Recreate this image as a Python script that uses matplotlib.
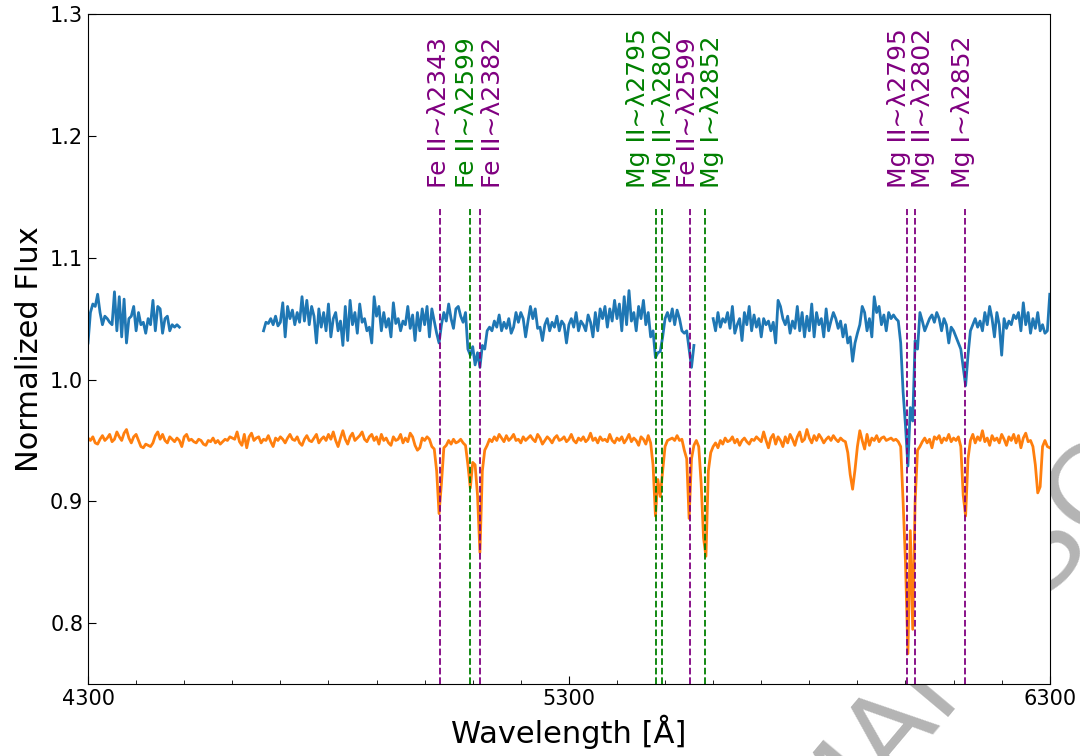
import matplotlib
matplotlib.use('Agg')
import matplotlib.pyplot as plt
import numpy as np
from matplotlib.ticker import MultipleLocator

# DATOS
# -----
# rejilla de longitud de onda (paso de 5 A)
lam_ini = 4300
lam_fin = 6300
paso = 5

nan = np.nan

# espectro azul (cortes = nan)
flujo_azul = [
    1.030, 1.055, 1.062, 1.060, 1.070, 1.055, 1.045, 1.052, 1.050, 1.047, 1.045, 1.072, 1.040, 1.068, 1.035, 1.066, 1.030, 1.050, 1.052, 1.060,
    1.040, 1.055, 1.045, 1.047, 1.038, 1.050, 1.045, 1.065, 1.040, 1.060, 1.058, 1.038, 1.050, 1.052, 1.040, 1.045, 1.043, 1.045, 1.043, nan,
    nan, nan, nan, nan, nan, nan, nan, nan, nan, nan, nan, nan, nan, nan, nan, nan, nan, nan, nan, nan,
    nan, nan, nan, nan, nan, nan, nan, nan, nan, nan, nan, nan, nan, 1.040, 1.047, 1.046, 1.050, 1.045, 1.052, 1.044,
    1.047, 1.063, 1.035, 1.060, 1.050, 1.057, 1.045, 1.055, 1.047, 1.068, 1.048, 1.065, 1.045, 1.060, 1.052, 1.030, 1.058, 1.043, 1.055, 1.040,
    1.062, 1.035, 1.050, 1.055, 1.040, 1.048, 1.028, 1.060, 1.032, 1.065, 1.045, 1.055, 1.038, 1.062, 1.047, 1.050, 1.040, 1.043, 1.030, 1.068,
    1.052, 1.060, 1.040, 1.055, 1.043, 1.050, 1.035, 1.063, 1.046, 1.050, 1.040, 1.048, 1.045, 1.060, 1.042, 1.053, 1.032, 1.055, 1.040, 1.058,
    1.045, 1.060, 1.035, 1.058, 1.048, 1.038, 1.030, 1.045, 1.055, 1.048, 1.062, 1.050, 1.042, 1.058, 1.060, 1.052, 1.047, 1.055, 1.025, 1.020,
    1.027, 1.012, 1.022, 1.010, 1.028, 1.025, 1.040, 1.043, 1.040, 1.048, 1.043, 1.053, 1.040, 1.047, 1.042, 1.050, 1.038, 1.043, 1.055, 1.047,
    1.055, 1.050, 1.035, 1.048, 1.060, 1.050, 1.058, 1.042, 1.043, 1.032, 1.045, 1.050, 1.040, 1.047, 1.043, 1.052, 1.040, 1.048, 1.045, 1.030,
    1.045, 1.050, 1.043, 1.055, 1.040, 1.048, 1.045, 1.040, 1.053, 1.047, 1.035, 1.055, 1.040, 1.058, 1.050, 1.060, 1.043, 1.058, 1.048, 1.065,
    1.050, 1.062, 1.040, 1.068, 1.045, 1.073, 1.048, 1.055, 1.040, 1.060, 1.050, 1.065, 1.045, 1.055, 1.035, 1.040, 1.018, 1.022, 1.023, 1.035,
    1.050, 1.055, 1.048, 1.058, 1.045, 1.057, 1.050, 1.040, 1.038, 1.040, 1.025, 1.010, 1.028, nan, nan, nan, nan, nan, nan, nan,
    1.050, 1.040, 1.055, 1.043, 1.050, 1.047, 1.055, 1.042, 1.060, 1.038, 1.045, 1.050, 1.032, 1.055, 1.045, 1.060, 1.040, 1.053, 1.043, 1.050,
    1.035, 1.050, 1.045, 1.048, 1.040, 1.047, 1.030, 1.065, 1.060, 1.050, 1.045, 1.052, 1.038, 1.048, 1.042, 1.060, 1.040, 1.055, 1.035, 1.052,
    1.040, 1.062, 1.035, 1.055, 1.045, 1.050, 1.035, 1.058, 1.040, 1.048, 1.055, 1.050, 1.042, 1.048, 1.035, 1.045, 1.030, 1.035, 1.015, 1.030,
    1.038, 1.045, 1.060, 1.055, 1.040, 1.050, 1.035, 1.068, 1.055, 1.060, 1.045, 1.053, 1.040, 1.055, 1.050, 1.053, 1.050, 1.048, 1.030, 0.990,
    0.962, 0.929, 0.977, 0.966, 1.032, 1.025, 1.055, 1.048, 1.040, 1.045, 1.050, 1.053, 1.047, 1.055, 1.050, 1.040, 1.050, 1.045, 1.030, 1.043,
    1.040, 1.035, 1.030, 1.025, 1.010, 0.995, 1.020, 1.040, 1.045, 1.050, 1.043, 1.048, 1.040, 1.055, 1.045, 1.060, 1.050, 1.035, 1.055, 1.045,
    1.020, 1.050, 1.042, 1.048, 1.045, 1.053, 1.050, 1.055, 1.040, 1.063, 1.045, 1.055, 1.038, 1.050, 1.042, 1.055, 1.040, 1.045, 1.038, 1.040,
    1.070,
]

# espectro naranja
flujo_naranja = [
    0.952, 0.950, 0.953, 0.948, 0.947, 0.951, 0.954, 0.950, 0.952, 0.955, 0.949, 0.951, 0.957, 0.953, 0.950, 0.956, 0.959, 0.952, 0.948, 0.953,
    0.955, 0.950, 0.945, 0.944, 0.947, 0.946, 0.945, 0.948, 0.954, 0.957, 0.951, 0.955, 0.950, 0.948, 0.953, 0.951, 0.949, 0.952, 0.950, 0.945,
    0.953, 0.955, 0.950, 0.951, 0.949, 0.948, 0.951, 0.950, 0.947, 0.946, 0.950, 0.949, 0.952, 0.948, 0.950, 0.947, 0.949, 0.951, 0.950, 0.953,
    0.952, 0.951, 0.957, 0.949, 0.946, 0.955, 0.944, 0.953, 0.956, 0.950, 0.952, 0.953, 0.948, 0.951, 0.950, 0.954, 0.949, 0.945, 0.952, 0.950,
    0.953, 0.951, 0.948, 0.952, 0.955, 0.951, 0.950, 0.953, 0.948, 0.946, 0.951, 0.954, 0.950, 0.949, 0.952, 0.955, 0.948, 0.951, 0.953, 0.950,
    0.955, 0.951, 0.957, 0.950, 0.945, 0.952, 0.958, 0.951, 0.947, 0.953, 0.956, 0.950, 0.952, 0.954, 0.957, 0.951, 0.949, 0.953, 0.955, 0.950,
    0.953, 0.947, 0.955, 0.950, 0.952, 0.948, 0.946, 0.953, 0.950, 0.951, 0.955, 0.948, 0.952, 0.949, 0.956, 0.953, 0.946, 0.942, 0.944, 0.952,
    0.950, 0.953, 0.951, 0.945, 0.943, 0.925, 0.890, 0.915, 0.944, 0.946, 0.950, 0.947, 0.951, 0.948, 0.949, 0.951, 0.948, 0.946, 0.930, 0.911,
    0.932, 0.930, 0.905, 0.858, 0.925, 0.942, 0.946, 0.951, 0.949, 0.953, 0.950, 0.955, 0.952, 0.949, 0.954, 0.950, 0.952, 0.955, 0.950, 0.951,
    0.948, 0.953, 0.950, 0.952, 0.954, 0.951, 0.949, 0.955, 0.952, 0.947, 0.950, 0.953, 0.951, 0.948, 0.952, 0.954, 0.950, 0.951, 0.953, 0.949,
    0.951, 0.955, 0.950, 0.948, 0.952, 0.950, 0.953, 0.949, 0.951, 0.956, 0.950, 0.952, 0.948, 0.953, 0.950, 0.951, 0.949, 0.955, 0.950, 0.948,
    0.952, 0.950, 0.953, 0.948, 0.951, 0.955, 0.949, 0.952, 0.950, 0.946, 0.953, 0.951, 0.947, 0.954, 0.948, 0.930, 0.888, 0.918, 0.904, 0.925,
    0.945, 0.950, 0.951, 0.952, 0.950, 0.954, 0.950, 0.951, 0.942, 0.935, 0.886, 0.935, 0.946, 0.950, 0.945, 0.915, 0.870, 0.855, 0.925, 0.940,
    0.945, 0.948, 0.944, 0.950, 0.947, 0.952, 0.949, 0.950, 0.953, 0.948, 0.951, 0.946, 0.950, 0.952, 0.949, 0.947, 0.951, 0.950, 0.953, 0.951,
    0.949, 0.957, 0.950, 0.944, 0.952, 0.955, 0.947, 0.953, 0.950, 0.945, 0.953, 0.948, 0.955, 0.951, 0.946, 0.953, 0.957, 0.949, 0.951, 0.959,
    0.952, 0.948, 0.954, 0.950, 0.955, 0.952, 0.948, 0.951, 0.953, 0.950, 0.954, 0.951, 0.949, 0.952, 0.950, 0.949, 0.940, 0.922, 0.910, 0.926,
    0.945, 0.958, 0.950, 0.943, 0.955, 0.946, 0.952, 0.950, 0.954, 0.949, 0.952, 0.953, 0.950, 0.951, 0.952, 0.950, 0.951, 0.949, 0.945, 0.900,
    0.850, 0.775, 0.876, 0.795, 0.900, 0.942, 0.945, 0.949, 0.952, 0.948, 0.951, 0.944, 0.953, 0.951, 0.954, 0.948, 0.952, 0.950, 0.955, 0.949,
    0.952, 0.950, 0.953, 0.945, 0.905, 0.888, 0.935, 0.950, 0.955, 0.948, 0.953, 0.950, 0.958, 0.949, 0.952, 0.946, 0.954, 0.950, 0.952, 0.948,
    0.955, 0.951, 0.946, 0.953, 0.950, 0.955, 0.948, 0.954, 0.944, 0.952, 0.956, 0.949, 0.950, 0.945, 0.930, 0.907, 0.912, 0.945, 0.950, 0.945,
    0.944,
]

# lineas de absorcion: posicion observada, etiqueta, color, posicion de la etiqueta
lineas_lam = [5032, 5094, 5115, 5481, 5494, 5552, 5583, 6003, 6019, 6123]
lineas_txt = ['Fe II∼λ2343', 'Fe II∼λ2599', 'Fe II∼λ2382',
              'Mg II∼λ2795', 'Mg II∼λ2802', 'Fe II∼λ2599',
              'Mg I∼λ2852', 'Mg II∼λ2795', 'Mg II∼λ2802',
              'Mg I∼λ2852']
lineas_col = ['purple', 'green', 'purple', 'green', 'green', 'purple', 'green',
              'purple', 'purple', 'purple']
etiq_lam = [5030, 5088, 5142, 5443, 5497, 5547, 5597, 5986, 6036, 6119]

lam = np.arange(lam_ini, lam_fin + 1, paso)

fig = plt.figure(figsize=(10.8, 7.56), dpi=100)
ax = fig.add_axes([0.0815, 0.095, 0.8905, 0.8865])
ax.set_facecolor('white')

# marca de agua (casi toda tapada por los ejes)
fig.text(0.398, -0.767, 'ACCEPTED MANUSCRIPT', rotation=50, rotation_mode='anchor',
         fontsize=80, color='#b4b4b4', ha='left', va='baseline', zorder=-1)

ax.plot(lam, flujo_azul, color='C0', lw=2)
ax.plot(lam, flujo_naranja, color='C1', lw=2)

for x, t, c, xt in zip(lineas_lam, lineas_txt, lineas_col, etiq_lam):
    ax.vlines(x, 0.75, 1.14, colors=c, linestyles='--', lw=1.3)
    ax.text(xt, 1.157, t, color=c, rotation=90, ha='center', va='bottom', fontsize=18)

ax.set_xlim(lam_ini, lam_fin)
ax.set_ylim(0.75, 1.3)
ax.set_xticks([4300, 5300, 6300])
ax.xaxis.set_minor_locator(MultipleLocator(100))
ax.set_yticks([0.8, 0.9, 1.0, 1.1, 1.2, 1.3])
ax.tick_params(which='both', direction='in', labelsize=15)
ax.tick_params(which='major', length=6)
ax.tick_params(which='minor', length=3)
ax.set_xlabel('Wavelength [Å]', fontsize=22)
ax.set_ylabel('Normalized Flux', fontsize=22)

fig.savefig('out.png', dpi=100)
